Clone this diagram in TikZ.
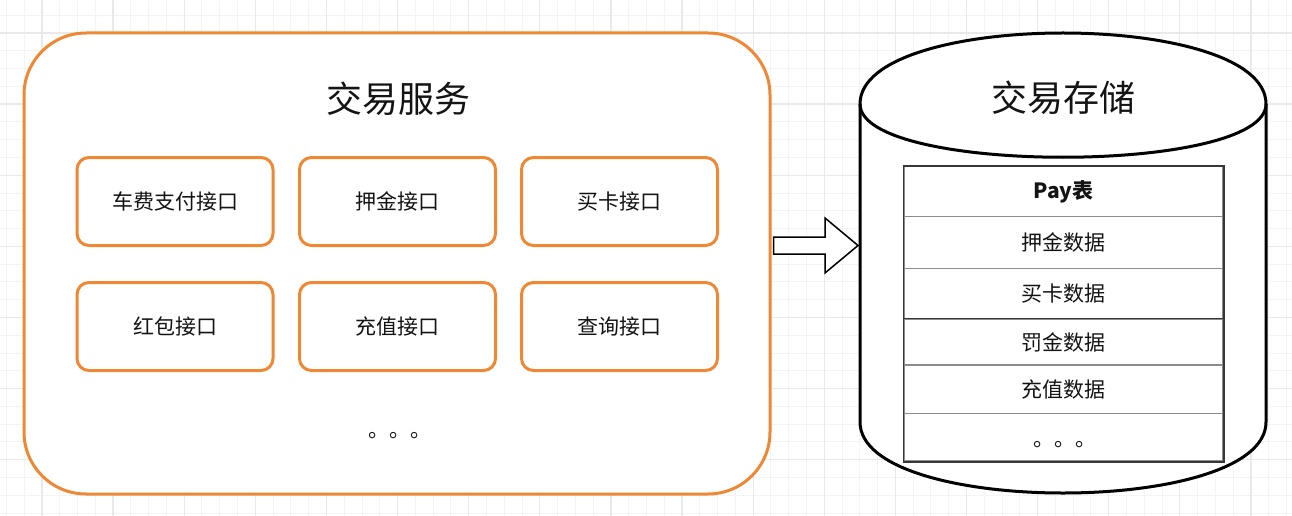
\documentclass[tikz,border=0pt]{standalone}
\usepackage{fontspec}
\setmainfont{Noto Sans CJK SC}
\usetikzlibrary{calc}
\definecolor{ringOrange}{RGB}{238,136,52}
\definecolor{gridMinor}{RGB}{244,244,244}
\definecolor{gridMajor}{RGB}{233,233,233}
\definecolor{rowLine}{RGB}{140,140,140}
\definecolor{tableEdge}{RGB}{55,55,55}
\definecolor{inkText}{RGB}{20,20,20}

\begin{document}
\begin{tikzpicture}[x=1pt, y=-1pt, text=inkText,
        big/.style={font=\fontsize{36}{36}\selectfont},
        lbl/.style={font=\fontsize{21}{21}\selectfont},
        svcbox/.style={rectangle, rounded corners=62pt, draw=ringOrange, line width=3pt, fill=white,
                  minimum width=746pt, minimum height=461pt, inner sep=0pt},
        api/.style={rectangle, rounded corners=12pt, draw=ringOrange, line width=3pt, fill=white,
                  minimum width=196pt, minimum height=88pt, inner sep=0pt, lbl},
        datarow/.style={rectangle, draw=rowLine, line width=1.5pt, fill=white,
                  minimum width=319pt, inner sep=0pt, lbl}]
        \useasboundingbox (0,0) rectangle (1292,516);
        \fill[white] (0,0) rectangle (1292,516);
        \foreach \k in {0,...,72} \draw[gridMinor, line width=1pt] ({6.4+17.78*\k},0) -- ++(0,516);
        \foreach \k in {0,...,29} \draw[gridMinor, line width=1pt] (0,{15.2+17.78*\k}) -- ++(1292,0);
        \foreach \k in {0,...,18} \draw[gridMajor, line width=1.2pt] ({41.96+71.12*\k},0) -- ++(0,516);
        \foreach \k in {0,...,7} \draw[gridMajor, line width=1.2pt] (0,{32.98+71.12*\k}) -- ++(1292,0);

        \node[svcbox] (svc) at (397,263.5) {};
        \node[big] (svctitle) at (398,99) {交易服务};
        \node[api] (carpay) at (175,201.5)   {车费支付接口};
        \node[api] (deposit) at (397.5,201.5) {押金接口};
        \node[api] (buycard) at (619.5,201.5) {买卡接口};
        \node[api] (redpack) at (175,326.5)   {红包接口};
        \node[api] (recharge) at (397.5,326.5) {充值接口};
        \node[api] (query) at (619.5,326.5)   {查询接口};
        \node[lbl] (svcmore) at (400,436) {。。。};

        \draw[black, line width=3pt, fill=white]
            (860,104) .. controls (860,9.33) and (1266,9.33) .. (1266,104) -- (1266,422)
            .. controls (1266,516.67) and (860,516.67) .. (860,422) -- cycle;
        \draw[black, line width=3pt] (860,104) .. controls (860,175) and (1266,175) .. (1266,104);
        \coordinate (store) at (860,245.5);
        \node[big] (storetitle) at (1063,98) {交易存储};

        \node[datarow, minimum height=50pt]   (paytab) at (1063.5,191.7) {\textbf{Pay表}};
        \node[datarow, minimum height=51.6pt] (depdata) at (1063.5,242.5) {押金数据};
        \node[datarow, minimum height=51pt]   (carddata) at (1063.5,293.8) {买卡数据};
        \node[datarow, minimum height=45.7pt] (finedata) at (1063.5,342.2) {罚金数据};
        \node[datarow, minimum height=48.3pt] (rechdata) at (1063.5,389.2) {充值数据};
        \node[datarow, minimum height=47.7pt] (moredata) at (1063.5,437.2) {};
        \node[lbl] (moredots) at (1065,445) {。。。};
        \draw[tableEdge, line width=1.5pt] (finedata.north west) -- (finedata.north east);
        \draw[tableEdge, line width=1.5pt] (paytab.north west) rectangle (moredata.south east);

        \coordinate (flowtail) at ($(svc.east)+(2,-18)$);
        \coordinate (flowtip) at ($(store)+(-2,0)$);
        \draw[black, line width=1.5pt, fill=white, line join=miter]
            ($(flowtail)+(0,-8.5)$) -- ($(flowtip)+(-33,-8.5)$) -- ($(flowtip)+(-33,-27.5)$) -- (flowtip)
            -- ($(flowtip)+(-33,27.5)$) -- ($(flowtip)+(-33,8.5)$) -- ($(flowtail)+(0,8.5)$) -- cycle;
    \end{tikzpicture}
\end{document}
